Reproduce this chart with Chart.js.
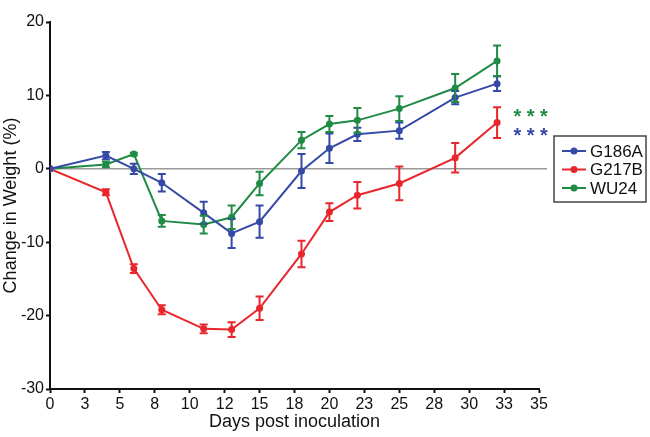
<!DOCTYPE html>
<html lang="en">
  <head>
    <meta charset="UTF-8" />
    <title>Change in Weight</title>
    <style>
      html, body { margin: 0; padding: 0; background: #fff; }
      #wrap { position: relative; width: 650px; height: 437px; }
    </style>
  </head>
  <body>
    <div id="wrap"><canvas id="weight-chart"></canvas></div>

    <script src="https://cdn.jsdelivr.net/npm/chart.js@4.4.0/dist/chart.umd.min.js"></script>
    <script>
      // Datos
      const days = [0, 4, 6, 8, 11, 13, 15, 18, 20, 22, 25, 29, 32];
      const xTickLabels = ['0', '3', '5', '8', '10', '12', '15', '18', '20', '23', '25', '28', '30', '33', '35'];

      const g186a = [0, 1.8, 0.0, -1.9, -6.0, -8.8, -7.2, -0.3, 2.8, 4.7, 5.2, 9.7, 11.6];
      const g186aErr = [0, 0.5, 0.7, 1.2, 1.5, 2.0, 2.2, 2.3, 2.0, 0.9, 1.1, 0.9, 1.0];

      const g217b = [0, -3.2, -13.6, -19.2, -21.8, -21.9, -19.0, -11.6, -5.9, -3.6, -2.0, 1.5, 6.3];
      const g217bErr = [0, 0.4, 0.6, 0.6, 0.6, 1.0, 1.6, 1.8, 1.2, 1.8, 2.3, 2.0, 2.1];

      const wu24 = [0, 0.6, 2.0, -7.1, -7.6, -6.6, -2.0, 3.9, 6.1, 6.6, 8.2, 11.0, 14.7];
      const wu24Err = [0, 0.4, 0.2, 0.8, 1.2, 1.6, 1.6, 1.1, 1.1, 1.7, 1.7, 1.9, 2.1];

      const BLUE = '#3549a6';
      const RED = '#e8262c';
      const GREEN = '#1f8b44';
      const FONT = 'Liberation Sans, Arial, Helvetica, sans-serif';

      const toPoints = (vals) => vals.map((v, i) => ({ x: days[i], y: v }));

      const makeSet = (label, vals, errs, color) => ({
        label: label,
        data: toPoints(vals),
        errors: errs,
        borderColor: color,
        backgroundColor: color,
        borderWidth: 2,
        pointRadius: 3.5,
        pointBorderWidth: 0,
        pointHoverRadius: 3.5,
        tension: 0,
      });

      // Plugin para barras de error, linea en cero, asteriscos y leyenda
      const extras = {
        id: 'extras',
        beforeDatasetsDraw(chart) {
          const ctx = chart.ctx;
          const area = chart.chartArea;
          const y0 = chart.scales.y.getPixelForValue(0);
          ctx.save();
          ctx.strokeStyle = '#9a9a9a';
          ctx.lineWidth = 1.5;
          ctx.beginPath();
          ctx.moveTo(area.left, y0);
          ctx.lineTo(area.right + 8, y0);
          ctx.stroke();
          ctx.restore();
        },
        afterDatasetsDraw(chart) {
          const ctx = chart.ctx;
          const yScale = chart.scales.y;
          ctx.save();
          ctx.lineWidth = 2;
          chart.data.datasets.forEach((ds, di) => {
            const meta = chart.getDatasetMeta(di);
            ctx.strokeStyle = ds.borderColor;
            meta.data.forEach((pt, i) => {
              const e = ds.errors[i];
              if (!e) return;
              const v = ds.data[i].y;
              const top = yScale.getPixelForValue(v + e);
              const bot = yScale.getPixelForValue(v - e);
              ctx.beginPath();
              ctx.moveTo(pt.x, top);
              ctx.lineTo(pt.x, bot);
              ctx.moveTo(pt.x - 4, top);
              ctx.lineTo(pt.x + 4, top);
              ctx.moveTo(pt.x - 4, bot);
              ctx.lineTo(pt.x + 4, bot);
              ctx.stroke();
            });
          });
          ctx.restore();
        },
        afterDraw(chart) {
          const ctx = chart.ctx;
          const xs = chart.scales.x;
          const ys = chart.scales.y;

          // asteriscos de significancia
          ctx.save();
          ctx.font = 'bold 20px ' + FONT;
          ctx.textAlign = 'center';
          ctx.textBaseline = 'middle';
          ctx.fillStyle = GREEN;
          ctx.fillText('* * *', xs.getPixelForValue(34.4), ys.getPixelForValue(7.0));
          ctx.fillStyle = BLUE;
          ctx.fillText('* * *', xs.getPixelForValue(34.4), ys.getPixelForValue(4.4));
          ctx.restore();

          // leyenda con recuadro
          const bx = 554, by = 136, bw = 92, bh = 66;
          ctx.save();
          ctx.fillStyle = '#fff';
          ctx.fillRect(bx, by, bw, bh);
          ctx.strokeStyle = '#444';
          ctx.lineWidth = 1.5;
          ctx.strokeRect(bx, by, bw, bh);
          ctx.font = '17px ' + FONT;
          ctx.textBaseline = 'middle';
          ctx.textAlign = 'left';
          chart.data.datasets.forEach((ds, i) => {
            const ly = by + 15 + i * 18.5;
            ctx.strokeStyle = ds.borderColor;
            ctx.lineWidth = 2;
            ctx.beginPath();
            ctx.moveTo(bx + 8, ly);
            ctx.lineTo(bx + 32, ly);
            ctx.stroke();
            ctx.fillStyle = ds.borderColor;
            ctx.beginPath();
            ctx.arc(bx + 20, ly, 3.5, 0, Math.PI * 2);
            ctx.fill();
            ctx.fillStyle = '#111';
            ctx.fillText(ds.label, bx + 36, ly + 1);
          });
          ctx.restore();
        },
      };

      const chart = new Chart(document.getElementById('weight-chart'), {
        type: 'line',
        data: {
          datasets: [
            makeSet('G186A', g186a, g186aErr, BLUE),
            makeSet('G217B', g217b, g217bErr, RED),
            makeSet('WU24', wu24, wu24Err, GREEN),
          ],
        },
        options: {
          responsive: true,
          maintainAspectRatio: false,
          animation: false,
          layout: { padding: { top: 22, right: 111, bottom: 0, left: 0 } },
          plugins: {
            legend: { display: false },
            tooltip: { enabled: false },
          },
          scales: {
            x: {
              type: 'linear',
              min: 0,
              max: 35,
              afterBuildTicks: (scale) => {
                scale.ticks = xTickLabels.map((_, i) => ({ value: i * 2.5 }));
              },
              afterFit: (scale) => { scale.height = 48; },
              ticks: {
                color: '#111',
                font: { family: FONT, size: 16 },
                padding: 2,
                maxRotation: 0,
                autoSkip: false,
                callback: (v, i) => xTickLabels[i],
              },
              grid: { drawOnChartArea: false, tickColor: '#111', tickLength: 4, tickWidth: 2 },
              border: { color: '#111', width: 2 },
              title: {
                display: true,
                text: 'Days post inoculation',
                color: '#111',
                font: { family: FONT, size: 18 },
                padding: { top: 0, bottom: 4 },
              },
            },
            y: {
              min: -30,
              max: 20,
              afterFit: (scale) => { scale.width = 50; },
              ticks: {
                stepSize: 10,
                color: '#111',
                font: { family: FONT, size: 16 },
                padding: 2,
              },
              grid: { drawOnChartArea: false, tickColor: '#111', tickLength: 4, tickWidth: 2 },
              border: { color: '#111', width: 2 },
              title: {
                display: true,
                text: 'Change in Weight (%)',
                color: '#111',
                font: { family: FONT, size: 18 },
                padding: { top: 0, bottom: 0 },
              },
            },
          },
        },
        plugins: [extras],
      });
    </script>
  </body>
</html>
